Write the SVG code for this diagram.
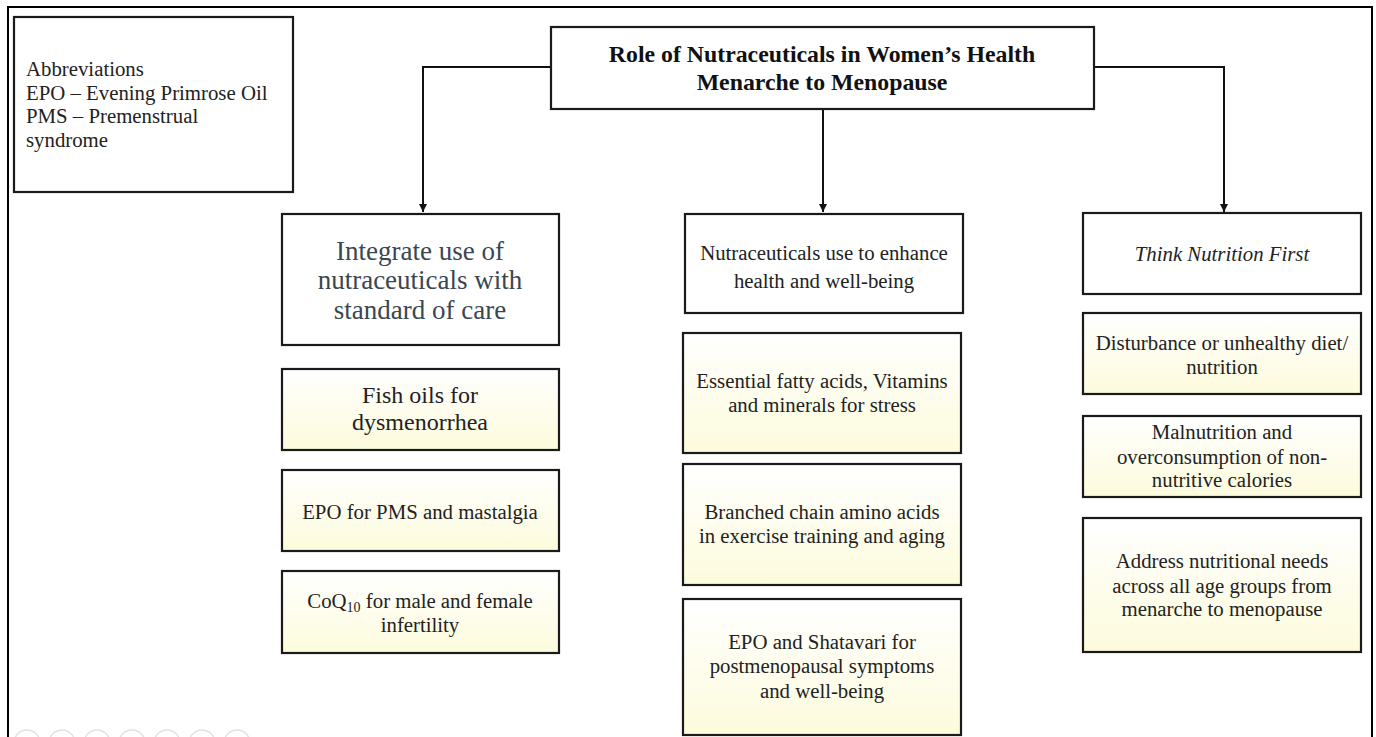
<svg xmlns="http://www.w3.org/2000/svg" width="1376" height="737" viewBox="0 0 1376 737">
<defs>
<linearGradient id="yel" x1="0" y1="0" x2="0" y2="1">
<stop offset="0" stop-color="#ffffff"/>
<stop offset="1" stop-color="#fdfbdc"/>
</linearGradient>
<marker id="arr" viewBox="0 0 10 10" refX="10" refY="5" markerWidth="8" markerHeight="8" markerUnits="userSpaceOnUse" orient="auto">
<path d="M0,0 L10,5 L0,10 z" fill="#111"/>
</marker>
</defs>
<style>
.box{fill:#fff;stroke:#1a1a1a;stroke-width:2.2}
.ybox{fill:url(#yel);stroke:#1a1a1a;stroke-width:2.2}
text{fill:#222;text-anchor:middle}
.t21{font-size:20.8px}
.conn{fill:none;stroke:#111;stroke-width:2}
.frame{fill:none;stroke:#000;stroke-width:2}
.icon{fill:none;stroke:#e2e2e2;stroke-width:1.5}
</style>
<rect width="1376" height="737" fill="#fff"/>
<path class="frame" d="M8,737 V7 H1372 V737"/>
<g id="icons">
<circle class="icon" cx="27" cy="743" r="13"/>
<circle class="icon" cx="62" cy="743" r="13"/>
<circle class="icon" cx="97" cy="743" r="13"/>
<circle class="icon" cx="132" cy="743" r="13"/>
<circle class="icon" cx="167" cy="743" r="13"/>
<circle class="icon" cx="202" cy="743" r="13"/>
<circle class="icon" cx="237" cy="743" r="13"/>
</g>
<g font-family="Liberation Serif, DejaVu Serif, serif">
<g id="abbrev">
<rect class="box" x="14" y="17" width="279" height="175"/>
<text class="t21" x="26" y="76" style="text-anchor:start">Abbreviations</text>
<text class="t21" x="26" y="100" style="text-anchor:start">EPO – Evening Primrose Oil</text>
<text class="t21" x="26" y="123" style="text-anchor:start">PMS – Premenstrual</text>
<text class="t21" x="26" y="147" style="text-anchor:start">syndrome</text>
</g>
<g id="connectors">
<path class="conn" d="M551,67 H423 V212" marker-end="url(#arr)"/>
<path class="conn" d="M823,109 V212" marker-end="url(#arr)"/>
<path class="conn" d="M1094,67 H1224 V212" marker-end="url(#arr)"/>
</g>
<g id="title">
<rect class="box" x="551" y="27" width="543" height="82"/>
<text x="822" y="62" style="font-size:23.8px;font-weight:bold;fill:#111">Role of Nutraceuticals in Women’s Health</text>
<text x="822" y="90" style="font-size:23.8px;font-weight:bold;fill:#111">Menarche to Menopause</text>
</g>
<g id="integrate">
<rect class="box" x="282" y="214" width="277" height="131"/>
<text x="420" y="260" style="font-size:27px;fill:#3a4650">Integrate use of</text>
<text x="420" y="289" style="font-size:27px;fill:#3a4650">nutraceuticals with</text>
<text x="420" y="319" style="font-size:27px;fill:#3a4650">standard of care</text>
</g>
<g id="fish">
<rect class="ybox" x="282" y="369" width="277" height="81"/>
<text x="420" y="403" style="font-size:24px">Fish oils for</text>
<text x="420" y="430" style="font-size:24px">dysmenorrhea</text>
</g>
<g id="epo">
<rect class="ybox" x="282" y="470" width="277" height="81"/>
<text class="t21" x="420" y="519">EPO for PMS and mastalgia</text>
</g>
<g id="coq">
<rect class="ybox" x="282" y="571" width="277" height="82"/>
<text class="t21" x="420" y="608">CoQ<tspan font-size="14" dy="4">10</tspan><tspan dy="-4"> for male and female</tspan></text>
<text class="t21" x="420" y="632">infertility</text>
</g>
<g id="enhance">
<rect class="box" x="685" y="214" width="278" height="99"/>
<text class="t21" x="824" y="260">Nutraceuticals use to enhance</text>
<text class="t21" x="824" y="288">health and well-being</text>
</g>
<g id="efa">
<rect class="ybox" x="683" y="333" width="278" height="120"/>
<text class="t21" x="822" y="388">Essential fatty acids, Vitamins</text>
<text class="t21" x="822" y="412">and minerals for stress</text>
</g>
<g id="bcaa">
<rect class="ybox" x="683" y="464" width="278" height="121"/>
<text class="t21" x="822" y="519">Branched chain amino acids</text>
<text class="t21" x="822" y="543">in exercise training and aging</text>
</g>
<g id="shatavari">
<rect class="ybox" x="683" y="599" width="278" height="136"/>
<text class="t21" x="822" y="649">EPO and Shatavari for</text>
<text class="t21" x="822" y="673">postmenopausal symptoms</text>
<text class="t21" x="822" y="698">and well-being</text>
</g>
<g id="think">
<rect class="box" x="1083" y="213" width="278" height="81"/>
<text class="t21" x="1222" y="261" style="font-style:italic">Think Nutrition First</text>
</g>
<g id="disturbance">
<rect class="ybox" x="1083" y="313" width="278" height="81"/>
<text class="t21" x="1222" y="350">Disturbance or unhealthy diet/</text>
<text class="t21" x="1222" y="374">nutrition</text>
</g>
<g id="malnutrition">
<rect class="ybox" x="1083" y="416" width="278" height="81"/>
<text class="t21" x="1222" y="439">Malnutrition and</text>
<text class="t21" x="1222" y="464">overconsumption of non-</text>
<text class="t21" x="1222" y="487">nutritive calories</text>
</g>
<g id="address">
<rect class="ybox" x="1083" y="518" width="278" height="134"/>
<text class="t21" x="1222" y="568">Address nutritional needs</text>
<text class="t21" x="1222" y="593">across all age groups from</text>
<text class="t21" x="1222" y="616">menarche to menopause</text>
</g>
</g>
</svg>
